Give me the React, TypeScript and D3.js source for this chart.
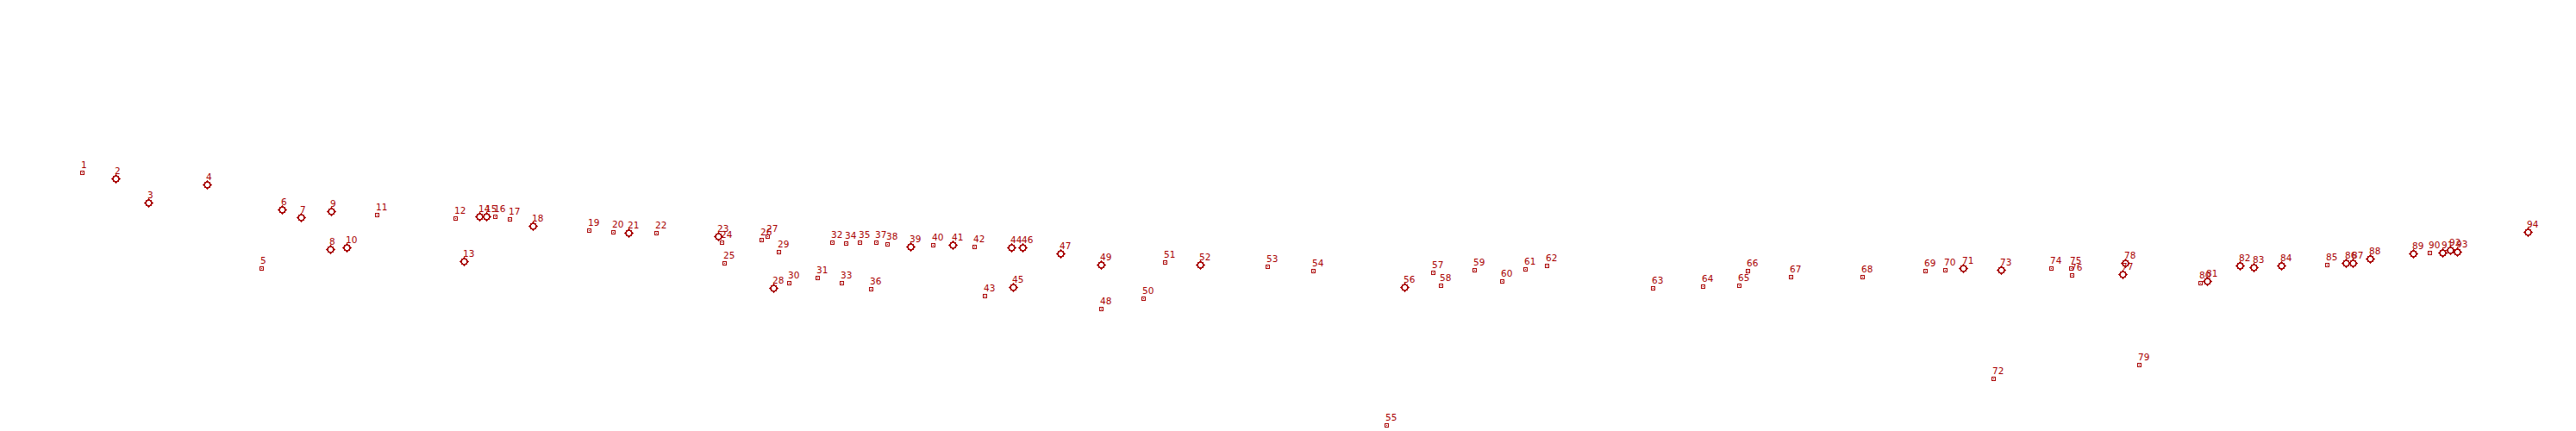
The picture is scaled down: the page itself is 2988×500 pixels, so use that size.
import React, { useEffect } from "react";
import * as d3 from "d3";

const ids = d3.range(1, 95);
const xValues = [
  0, 3.9, 7.7, 14.5, 20.8, 23.2, 25.4, 28.8, 28.9, 30.7,
  34.2, 43.3, 44.3, 46.1, 46.9, 47.9, 49.6, 52.3, 58.8, 61.6,
  63.4, 66.6, 73.8, 74.2, 74.5, 78.8, 79.5, 80.2, 80.8, 82.0,
  85.3, 87.0, 88.1, 88.6, 90.2, 91.5, 92.1, 93.4, 96.1, 98.7,
  101.0, 103.5, 104.7, 107.8, 108.0, 109.1, 113.5, 118.2, 118.2, 123.1,
  125.6, 129.7, 137.5, 142.8, 151.3, 153.4, 156.7, 157.6, 161.5, 164.7,
  167.4, 169.9, 182.2, 188.0, 192.2, 193.2, 198.2, 206.5, 213.8, 216.1,
  218.2, 221.7, 222.6, 228.4, 230.7, 230.8, 236.7, 237.0, 238.6, 245.7,
  246.5, 250.3, 251.9, 255.1, 260.4, 262.6, 263.4, 265.4, 270.4, 272.3,
  273.8, 274.7, 275.5, 283.7,
];
const yValues = [
  29.3, 28.6, 25.8, 27.9, 18.2, 25.0, 24.1, 20.4, 24.8, 20.6,
  24.4, 24.0, 19.0, 24.2, 24.2, 24.2, 23.9, 23.1, 22.6, 22.4,
  22.3, 22.3, 21.9, 21.2, 18.8, 21.5, 21.9, 15.9, 20.1, 16.5,
  17.1, 21.2, 16.5, 21.1, 21.2, 15.8, 21.2, 21.0, 20.7, 20.9,
  20.9, 20.7, 15.0, 20.6, 16.0, 20.6, 19.9, 13.5, 18.6, 14.7,
  18.9, 18.6, 18.4, 17.9, 0.0, 16.0, 17.7, 16.2, 18.0, 16.7,
  18.1, 18.5, 15.9, 16.1, 16.2, 17.9, 17.2, 17.2, 17.9, 18.0,
  18.2, 5.4, 18.0, 18.2, 18.2, 17.4, 17.5, 18.8, 7.0, 16.5,
  16.7, 18.5, 18.3, 18.5, 18.6, 18.8, 18.8, 19.3, 19.9, 20.0,
  20.0, 20.3, 20.1, 22.4,
];
// "D" = ring marker, "S" = small square marker
const markerTypes = [
  "S", "D", "D", "D", "S", "D", "D", "D", "D", "D",
  "S", "S", "D", "D", "D", "S", "S", "D", "S", "S",
  "D", "S", "D", "S", "S", "S", "S", "D", "S", "S",
  "S", "S", "S", "S", "S", "S", "S", "S", "D", "S",
  "D", "S", "S", "D", "D", "D", "D", "S", "D", "S",
  "S", "D", "S", "S", "S", "D", "S", "S", "S", "S",
  "S", "S", "S", "S", "S", "S", "S", "S", "S", "S",
  "D", "S", "D", "S", "S", "S", "D", "D", "S", "S",
  "D", "D", "D", "D", "S", "D", "D", "D", "D", "S",
  "D", "D", "D", "D",
];

const W = 2988;
const H = 500;
const COLOR = "#a80000";

export default function App() {
  useEffect(() => {
    document.body.style.margin = "0";
    document.body.style.overflow = "hidden";
  }, []);

  const x = d3.scaleLinear().domain([0, 283.7]).range([95, 2932]);
  const y = d3.scaleLinear().domain([0, 29.3]).range([493, 200]);

  const points = ids.map((id, i) => ({
    id,
    cx: Math.round(x(xValues[i])) + 0.5,
    cy: Math.round(y(yValues[i])) + 0.5,
    type: markerTypes[i],
  }));

  return (
    <svg
      width={W}
      height={H}
      style={{ position: "absolute", left: 0, top: 0, display: "block", background: "#fff" }}
    >
      <g shapeRendering="crispEdges">
        {points.map((p) =>
          p.type === "D" ? (
            <g key={p.id} transform={`translate(${p.cx},${p.cy})`}>
              <line x1={-5.5} x2={5.5} y1={0} y2={0} stroke={COLOR} strokeWidth={1} />
              <line x1={0} x2={0} y1={-5.5} y2={5.5} stroke={COLOR} strokeWidth={1} />
              <circle r={3.5} fill="#fff" stroke={COLOR} strokeWidth={1.8} />
            </g>
          ) : (
            <g key={p.id} transform={`translate(${p.cx},${p.cy})`}>
              <rect x={-2} y={-2} width={4} height={4} fill="#fff" stroke={COLOR} strokeWidth={1} />
              <rect x={-0.5} y={-0.5} width={1} height={1} fill={COLOR} />
            </g>
          )
        )}
      </g>
      <g fontFamily="DejaVu Sans" fontSize={10.5} fill={COLOR}>
        {points.map((p) => (
          <text key={p.id} x={p.cx - 1.5} y={p.cy - 6}>
            {p.id}
          </text>
        ))}
      </g>
    </svg>
  );
}
